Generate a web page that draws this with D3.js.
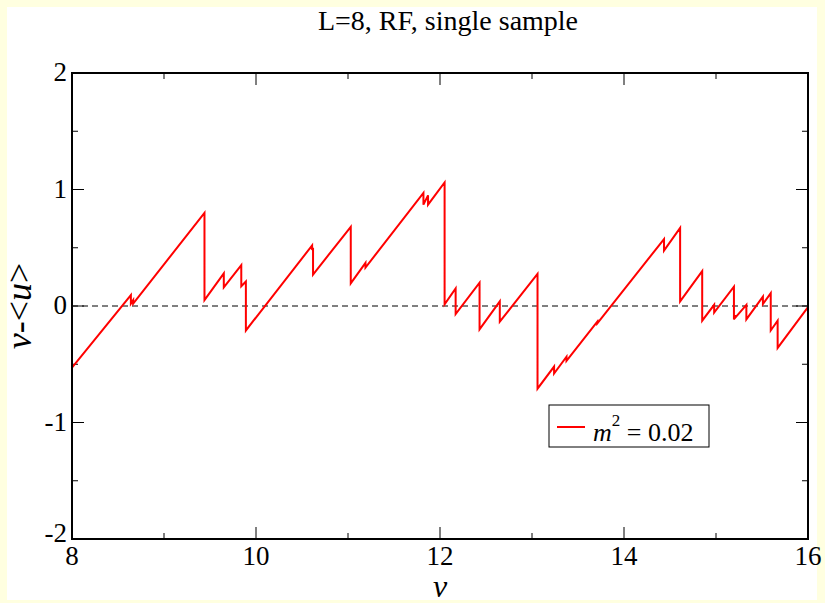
<!DOCTYPE html>
<html>
<head>
<meta charset="utf-8">
<script src="https://cdn.jsdelivr.net/npm/d3@7"></script>
<style>
  body { margin: 0; background: #ffffe0; }
  svg { display: block; }
</style>
</head>
<body>
<script>
// polyline vertices of the single sample (jumps are vertical: repeated x)
const vx = [8, 8.64, 8.64, 8.665, 8.665, 9.44, 9.44, 9.65, 9.65, 9.84, 9.84, 9.89, 9.89,
  10.61, 10.61, 10.62, 10.62, 11.03, 11.03, 11.19, 11.19, 11.82, 11.82, 11.87, 11.87, 12.05, 12.05,
  12.17, 12.17, 12.43, 12.43, 12.65, 12.65, 13.06, 13.06, 13.24, 13.24, 13.375, 13.375, 13.71, 13.71,
  14.435, 14.435, 14.61, 14.61, 14.85, 14.85, 14.98, 14.98, 15.195, 15.195, 15.21, 15.21,
  15.33, 15.33, 15.51, 15.51, 15.595, 15.595, 15.67, 15.67, 16];
const vy = [-0.53, 0.094, 0.02, 0.05, 0.02, 0.80, 0.05, 0.28, 0.16, 0.35, 0.17, 0.21, -0.21,
  0.52, 0.48, 0.50, 0.27, 0.68, 0.195, 0.37, 0.33, 0.97, 0.87, 0.95, 0.87, 1.06, 0.015,
  0.15, -0.07, 0.20, -0.20, 0.04, -0.135, 0.275, -0.71, -0.52, -0.58, -0.435, -0.47, -0.135, -0.15,
  0.575, 0.475, 0.67, 0.04, 0.30, -0.126, 0.01, -0.057, 0.166, -0.115, -0.077, -0.10,
  0.01, -0.115, 0.08, 0.017, 0.11, -0.21, -0.126, -0.36, -0.01];
const xTicks = [8, 10, 12, 14, 16];
const xMinor = [9, 11, 13, 15];
const yTicks = [-2, -1, 0, 1, 2];
const yMinor = [-1.5, -0.5, 0.5, 1.5];
const title = "L=8, RF, single sample";
const legendValue = " = 0.02";

const W = 825, H = 603;
const margin = {left: 72, right: 17, top: 73, bottom: 64};
const iw = W - margin.left - margin.right;
const ih = H - margin.top - margin.bottom;
const serif = "'Liberation Serif', 'Times New Roman', Times, 'DejaVu Serif', serif";

const svg = d3.select("body").append("svg")
  .attr("width", W)
  .attr("height", H)
  .attr("font-family", serif);

svg.append("rect")
  .attr("x", 7).attr("y", 7)
  .attr("width", 810).attr("height", 593)
  .attr("fill", "#fff");

const x = d3.scaleLinear().domain([8, 16]).range([0, iw]);
const y = d3.scaleLinear().domain([-2, 2]).range([ih, 0]);

const g = svg.append("g")
  .attr("transform", "translate(" + margin.left + "," + margin.top + ")");

// zero reference line
g.append("line")
  .attr("x1", 0).attr("x2", iw)
  .attr("y1", y(0)).attr("y2", y(0))
  .attr("stroke", "#000").attr("stroke-width", 1)
  .attr("stroke-dasharray", "6,4");

// ticks, drawn inward on all four sides
function ticks(vals, len, side) {
  vals.forEach(v => {
    if (side === "x") {
      g.append("line").attr("x1", x(v)).attr("x2", x(v)).attr("y1", ih).attr("y2", ih - len)
        .attr("stroke", "#000").attr("stroke-width", 1);
      g.append("line").attr("x1", x(v)).attr("x2", x(v)).attr("y1", 0).attr("y2", len)
        .attr("stroke", "#000").attr("stroke-width", 1);
    } else {
      g.append("line").attr("y1", y(v)).attr("y2", y(v)).attr("x1", 0).attr("x2", len)
        .attr("stroke", "#000").attr("stroke-width", 1);
      g.append("line").attr("y1", y(v)).attr("y2", y(v)).attr("x1", iw).attr("x2", iw - len)
        .attr("stroke", "#000").attr("stroke-width", 1);
    }
  });
}
ticks(xTicks, 12, "x");
ticks(xMinor, 6, "x");
ticks(yTicks, 12, "y");
ticks(yMinor, 6, "y");

// tick labels
g.selectAll(".xl").data(xTicks).enter().append("text")
  .attr("x", d => x(d)).attr("y", ih + 26)
  .attr("text-anchor", "middle").attr("font-size", 27)
  .text(d => d);
g.selectAll(".yl").data(yTicks).enter().append("text")
  .attr("x", -5).attr("y", d => y(d) + (d === -2 ? 3 : 8))
  .attr("text-anchor", "end").attr("font-size", 27)
  .text(d => d);

// data line
const line = d3.line().x((d, i) => x(vx[i])).y(d => y(d));
g.append("path")
  .datum(vy)
  .attr("d", line)
  .attr("fill", "none")
  .attr("stroke", "#ff0000")
  .attr("stroke-width", 2)
  .attr("stroke-linejoin", "miter");

// frame
g.append("rect")
  .attr("width", iw).attr("height", ih)
  .attr("fill", "none").attr("stroke", "#000").attr("stroke-width", 2);

// title and axis labels
svg.append("text")
  .attr("x", 448).attr("y", 30)
  .attr("text-anchor", "middle").attr("font-size", 28)
  .text(title);

svg.append("text")
  .attr("x", margin.left + iw / 2).attr("y", 597)
  .attr("text-anchor", "middle").attr("font-size", 32).attr("font-style", "italic")
  .text("v");

const yl = svg.append("text")
  .attr("transform", "translate(31," + (margin.top + ih / 2) + ") rotate(-90)")
  .attr("text-anchor", "middle").attr("font-size", 36);
yl.append("tspan").attr("font-style", "italic").text("v");
yl.append("tspan").text("-<");
yl.append("tspan").attr("font-style", "italic").text("u");
yl.append("tspan").text(">");

// legend
const lg = svg.append("g").attr("transform", "translate(549,405)");
lg.append("rect").attr("width", 160).attr("height", 42)
  .attr("fill", "#fff").attr("stroke", "#000").attr("stroke-width", 1);
lg.append("line").attr("x1", 8).attr("x2", 36).attr("y1", 22).attr("y2", 22)
  .attr("stroke", "#ff0000").attr("stroke-width", 2);
const lt = lg.append("text").attr("x", 44).attr("y", 36).attr("font-size", 26);
lt.append("tspan").attr("font-style", "italic").text("m");
lt.append("tspan").attr("dy", -15).attr("font-size", 17).text("2");
lt.append("tspan").attr("dy", 15).text(legendValue);
</script>
</body>
</html>
